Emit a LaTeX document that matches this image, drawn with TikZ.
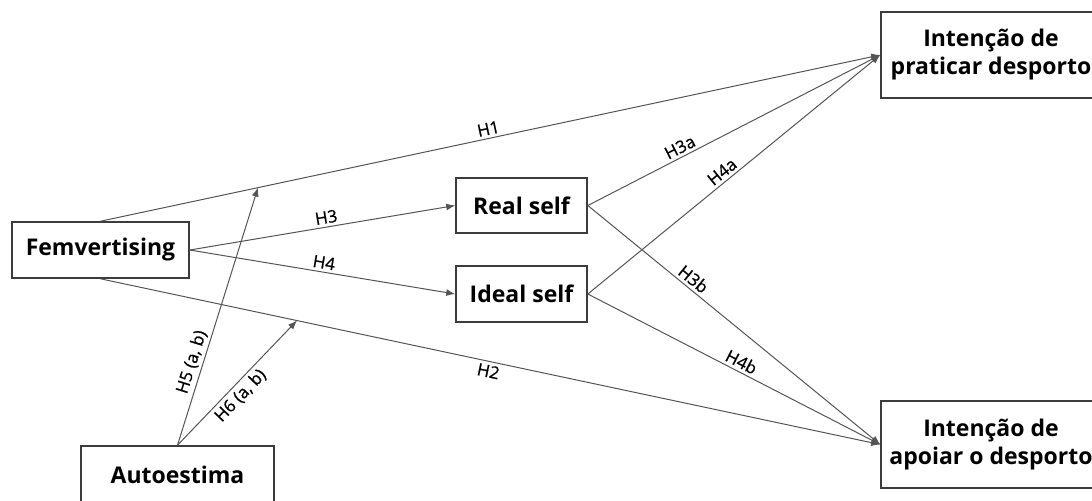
\documentclass[tikz,border=0pt]{standalone}
\usepackage{fontspec}
\setmainfont{Open Sans}
\newfontfamily\lblfont{Open Sans}[FakeBold=0.8]
\usetikzlibrary{arrows.meta,calc}
\definecolor{boxgray}{RGB}{60,60,60}
\definecolor{linegray}{RGB}{85,85,85}

\tikzset{
  var/.style={draw=boxgray,line width=.8pt,inner sep=0pt,align=center,font=\fontsize{11.5}{14}\selectfont\bfseries},
  hyp/.style={draw=linegray,line width=.5pt},
  hyparrow/.style={hyp,-{Latex[length=4.5pt,width=3.5pt]}},
  lbl/.style={font=\lblfont\fontsize{8.5}{10}\selectfont,sloped,inner sep=1.5pt}
}

\begin{document}
\begin{tikzpicture}[x=.5pt,y=-.5pt]
\useasboundingbox (0,0) rectangle (1092,500);
\clip (0,0) rectangle (1092,500);
% variables
\node[var,minimum width=88.5pt,minimum height=28pt] (fem) at (100.5,250) {Femvertising};
\node[var,minimum width=65.5pt,minimum height=27.5pt] (real) at (521.5,205.5) {Real self};
\node[var,minimum width=65.5pt,minimum height=28pt] (ideal) at (521.5,294) {Ideal self};
\node[var,minimum width=110pt,minimum height=43pt] (prat) at (991,55) {Intenção de\\praticar desporto};
\node[var,minimum width=110pt,minimum height=43.5pt] (apoi) at (991,444.5) {Intenção de\\apoiar o desporto};
\node[var,minimum width=96.5pt,minimum height=29pt] (auto) at (177.5,475) {Autoestima};
% direct effects
\draw[hyparrow] (fem.north) -- node[lbl,above,pos=.5]{H1} (prat.west);
\draw[hyparrow] (fem.south) -- node[lbl,below,pos=.5]{H2} (apoi.west);
\draw[hyparrow] (fem.east) -- node[lbl,above,pos=.52]{H3} (real.west);
\draw[hyparrow] (fem.east) -- node[lbl,above,pos=.5]{H4} (ideal.west);
% mediators
\draw[hyparrow] (real.east) -- node[lbl,above,pos=.33]{H3a} (prat.west);
\draw[hyparrow] (ideal.east) -- node[lbl,above,pos=.48]{H4a} (prat.west);
\draw[hyparrow] (real.east) -- node[lbl,above,pos=.34]{H3b} (apoi.west);
\draw[hyparrow] (ideal.east) -- node[lbl,above,pos=.51]{H4b} (apoi.west);
% moderation
\coordinate (m1) at ($(fem.north)!.202!(prat.west)$);
\coordinate (m2) at ($(fem.south)!.252!(apoi.west)$);
\draw[hyparrow] (auto.north) -- node[lbl,above,pos=.31]{H5 (a, b)} (m1);
\draw[hyparrow] (auto.north) -- node[lbl,below,pos=.46]{H6 (a, b)} (m2);
\end{tikzpicture}
\end{document}
